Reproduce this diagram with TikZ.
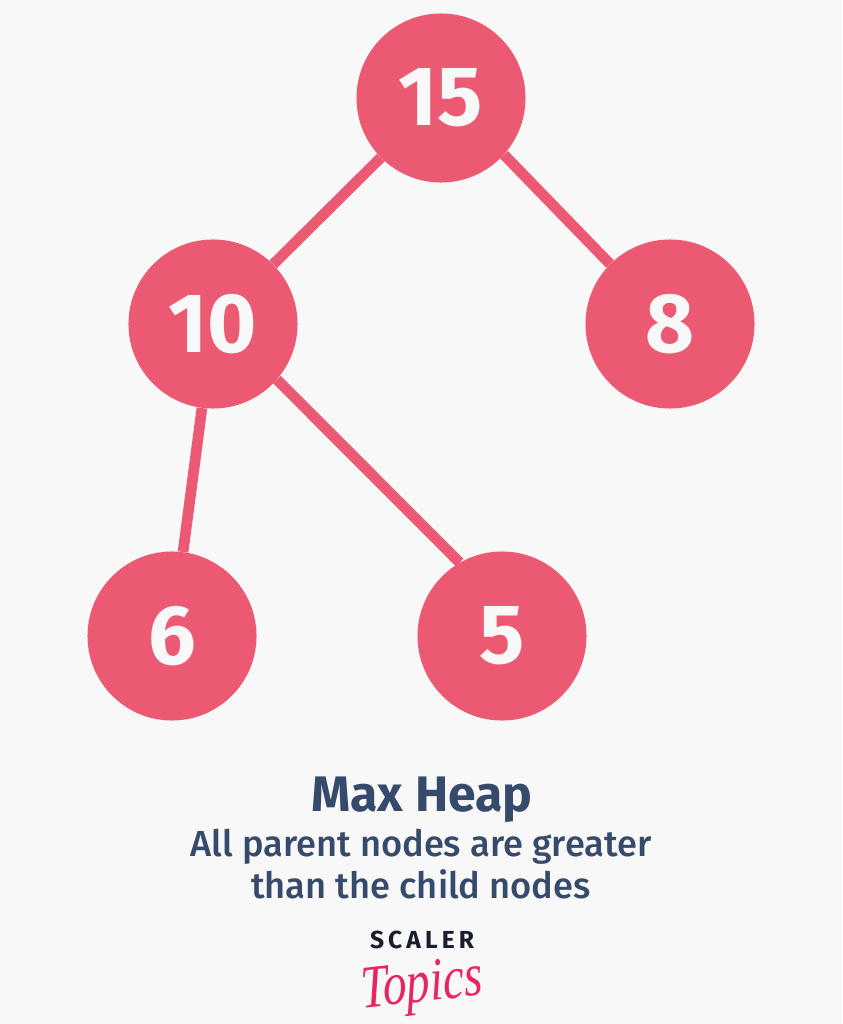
\documentclass[tikz,border=0pt]{standalone}
\usepackage{fontspec}
\setmainfont{Fira Sans}
\newfontfamily\captionfont{Fira Sans Medium}
\newfontfamily\logofont{Liberation Serif}
\definecolor{heapred}{HTML}{EB5A72}
\definecolor{heapbg}{HTML}{F8F8F8}
\definecolor{captionblue}{HTML}{364A6B}
\definecolor{logoblack}{HTML}{1A1D2B}
\definecolor{logopink}{HTML}{E8265E}
\tikzset{
  heapnode/.style={circle,fill=heapred,text=heapbg,minimum size=4.225cm,inner sep=0pt,font=\fontsize{60}{60}\selectfont\bfseries},
  heapedge/.style={draw=heapred,line width=7.6pt}
}

\begin{document}
\begin{tikzpicture}[x=0.025cm,y=-0.025cm]
      \fill[heapbg] (0,0) rectangle (842,1024);
      \useasboundingbox (0,0) rectangle (842,1024);

      \node[heapnode] (n15) at (441,98) {15};
      \node[heapnode] (n10) at (213,324) {10};
      \node[heapnode] (n8) at (670,324) {8};
      \node[heapnode] (n6) at (172,636) {6};
      \node[heapnode] (n5) at (502,636) {5};

      \draw[heapedge] (n15) -- (n10);
      \draw[heapedge] (n15.-42) -- (n8.135);
      \draw[heapedge] (n10) -- (n6);
      \draw[heapedge] (n10.-41) -- (n5.120);

      \node[text=captionblue,font=\fontsize{35.5}{35.5}\selectfont\bfseries] (title) at (422,800) {Max Heap};
      \node[text=captionblue,font=\fontsize{25.8}{29.5}\captionfont\selectfont,align=center] (caption) at (421,864) {All parent nodes are greater\\than the child nodes};
      \node[text=logoblack,font=\fontsize{17.5}{17.5}\selectfont\bfseries,inner sep=0pt] (scaler) at (422,940) {S\,C\,A\,L\,E\,R};
      \node[text=logopink,font=\fontsize{32}{32}\logofont\itshape\selectfont,inner sep=0pt,transform shape,xscale=1.05,yscale=1.35,rotate=5] (topics) at (422,988) {Topics};
    \end{tikzpicture}
\end{document}
